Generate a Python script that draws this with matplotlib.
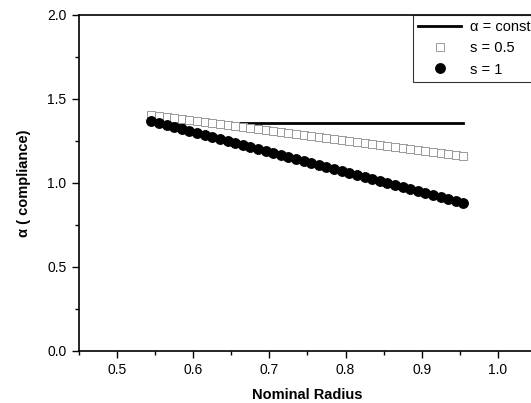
import matplotlib
matplotlib.use("Agg")
import matplotlib.pyplot as plt
from matplotlib.ticker import MultipleLocator

plt.rcParams['font.family'] = ['Liberation Sans', 'DejaVu Sans']

radius = [0.545, 0.555, 0.565, 0.575, 0.585, 0.595, 0.605, 0.615, 0.625, 0.635,
          0.645, 0.655, 0.665, 0.675, 0.685, 0.695, 0.705, 0.715, 0.725, 0.735,
          0.745, 0.755, 0.765, 0.775, 0.785, 0.795, 0.805, 0.815, 0.825, 0.835,
          0.845, 0.855, 0.865, 0.875, 0.885, 0.895, 0.905, 0.915, 0.925, 0.935,
          0.945, 0.955]

alpha_const = [1.357] * len(radius)

s_half = [1.405, 1.399, 1.393, 1.387, 1.381, 1.375, 1.369, 1.363, 1.357, 1.351,
          1.345, 1.339, 1.333, 1.327, 1.321, 1.315, 1.309, 1.303, 1.297, 1.291,
          1.285, 1.279, 1.273, 1.267, 1.261, 1.255, 1.249, 1.243, 1.237, 1.231,
          1.225, 1.219, 1.213, 1.207, 1.201, 1.195, 1.189, 1.183, 1.177, 1.171,
          1.165, 1.159]

s_one = [1.366, 1.354, 1.342, 1.330, 1.318, 1.307, 1.295, 1.283, 1.271, 1.259,
         1.247, 1.236, 1.224, 1.212, 1.200, 1.188, 1.176, 1.165, 1.153, 1.141,
         1.129, 1.117, 1.105, 1.094, 1.082, 1.070, 1.058, 1.046, 1.034, 1.023,
         1.011, 0.999, 0.987, 0.975, 0.963, 0.952, 0.940, 0.928, 0.916, 0.904,
         0.892, 0.880]

fig = plt.figure(figsize=(5.31, 4.03), dpi=100)
# right spine sits just past the image edge, like the scanned original
ax = fig.add_axes([0.149, 0.130, 0.860, 0.833])

ax.plot(radius, alpha_const, color='black', lw=2, label=u'\u03b1 = const', zorder=2)
ax.plot(radius, s_half, ls='none', marker='s', ms=5.5, mfc='white', mec='#999999',
        mew=0.7, label='s = 0.5', zorder=3)
ax.plot(radius, s_one, ls='none', marker='o', ms=6.8, mfc='black', mec='black',
        label='s = 1', zorder=4)

ax.set_xlim(0.45, 1.05)
ax.set_ylim(0.0, 2.0)
ax.xaxis.set_major_locator(MultipleLocator(0.1))
ax.xaxis.set_minor_locator(MultipleLocator(0.05))
ax.yaxis.set_major_locator(MultipleLocator(0.5))
ax.yaxis.set_minor_locator(MultipleLocator(0.25))
ax.tick_params(which='major', direction='out', length=5, width=1, labelsize=10, pad=4)
ax.tick_params(which='minor', direction='out', length=3, width=1)
for sp in ax.spines.values():
    sp.set_linewidth(1.2)

ax.set_xlabel('Nominal Radius', fontsize=10.5, fontweight='bold', labelpad=8)
ax.set_ylabel(u'\u03b1 ( compliance)', fontsize=10.5, fontweight='bold', labelpad=12)

leg = ax.legend(loc='upper right', fontsize=10.5, frameon=True, fancybox=False,
                borderaxespad=0, handlelength=3.0, borderpad=0.35, labelspacing=0.5,
                handletextpad=0.6)
leg.get_frame().set_edgecolor('black')
leg.get_frame().set_linewidth(0.8)

fig.savefig('out.png', dpi=100)
